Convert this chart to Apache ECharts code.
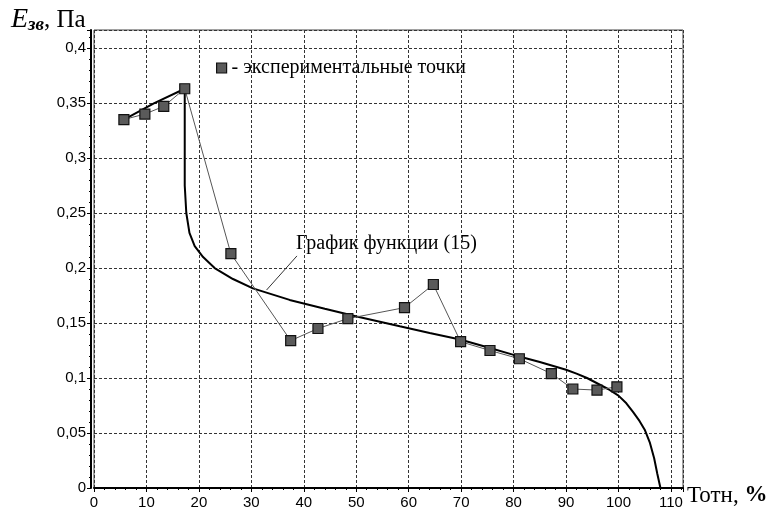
<!DOCTYPE html>
<html>
<head>
<meta charset="utf-8">
<script src="https://cdn.jsdelivr.net/npm/echarts@6/dist/echarts.min.js"></script>
<style>
  html, body { margin: 0; padding: 0; background: #fff; }
  #chart { width: 768px; height: 511px; }
</style>
</head>
<body>
<div id="chart"></div>
<script>
// experimental points, Тотн (%) vs E_зв (Па)
const expX = [5.7, 9.7, 13.3, 17.3, 26.1, 37.5, 42.7, 48.4, 59.2, 64.7, 69.9, 75.5, 81.1, 87.2, 91.3, 95.9, 99.7];
const expY = [0.335, 0.340, 0.347, 0.363, 0.213, 0.134, 0.145, 0.154, 0.164, 0.185, 0.133, 0.125, 0.1175, 0.104, 0.090, 0.089, 0.092];

// function (15)
const fnX = [5.7, 11.5, 17.3, 17.3, 17.6, 18.2, 19.2, 20.8, 23.0, 26.5, 30.3, 37.3, 44, 50.1, 58.3, 64, 69.8, 75, 80, 85, 90, 92, 94, 96, 98, 100, 101.5, 102.8, 104, 105, 106, 106.8, 107.4, 108];
const fnY = [0.335, 0.350, 0.363, 0.275, 0.250, 0.232, 0.220, 0.210, 0.200, 0.190, 0.1815, 0.171, 0.163, 0.156, 0.147, 0.141, 0.135, 0.128, 0.121, 0.1145, 0.1075, 0.104, 0.100, 0.095, 0.090, 0.084, 0.077, 0.069, 0.061, 0.053, 0.041, 0.027, 0.013, 0];

const pointer = [[38.7, 0.211], [32.9, 0.180]];

const serif = 'Liberation Serif';
const sans = 'Liberation Sans';

const chart = echarts.init(document.getElementById('chart'));

const gridLine = { show: true, lineStyle: { color: '#333', type: [3, 2], width: 1 } };

chart.setOption({
  animation: false,
  grid: { left: 94, right: 85, top: 30, bottom: 23, show: true, borderColor: '#444', borderWidth: 1 },
  legend: {
    left: 211, top: 53,
    icon: 'rect', itemWidth: 10, itemHeight: 10, itemGap: 7,
    itemStyle: { color: '#5a5a5a', borderColor: '#111', borderWidth: 1.2 },
    textStyle: { fontFamily: serif, fontSize: 20, color: '#000' },
    data: ['- экспериментальные точки'],
  },
  xAxis: {
    type: 'value', min: 0, max: 112.3, interval: 10,
    axisLine: { onZero: false, lineStyle: { color: '#000', width: 2 } },
    axisTick: { show: true, length: 4, lineStyle: { color: '#000' } },
    minorTick: { show: true, splitNumber: 5, length: 2, lineStyle: { color: '#000' } },
    axisLabel: { margin: 7, fontFamily: sans, fontSize: 15, color: '#000', showMaxLabel: false },
    splitLine: gridLine,
  },
  yAxis: {
    type: 'value', min: 0, max: 0.4164, interval: 0.05, offset: 3,
    axisLine: { show: true, onZero: false, lineStyle: { color: '#000', width: 2 } },
    axisTick: { show: true, length: 4, lineStyle: { color: '#000' } },
    minorTick: { show: true, splitNumber: 5, length: 2, lineStyle: { color: '#000' } },
    axisLabel: {
      margin: 5, fontFamily: sans, fontSize: 15, color: '#000', showMaxLabel: false,
      formatter: (v) => String(+v.toFixed(3)).replace('.', ','),
    },
    splitLine: gridLine,
  },
  series: [
    {
      name: 'fn15',
      type: 'line',
      data: fnX.map((x, i) => [x, fnY[i]]),
      showSymbol: false,
      lineStyle: { color: '#000', width: 2 },
      z: 2,
      markLine: {
        silent: true, symbol: 'none', label: { show: false },
        lineStyle: { color: '#333', width: 1, type: 'solid' },
        data: [[{ coord: pointer[0] }, { coord: pointer[1] }]],
      },
    },
    {
      name: '- экспериментальные точки',
      type: 'line',
      data: expX.map((x, i) => [x, expY[i]]),
      symbol: 'rect', symbolSize: 10,
      lineStyle: { color: '#555', width: 1 },
      itemStyle: { color: '#5a5a5a', borderColor: '#111', borderWidth: 1.2 },
      z: 3,
    },
  ],
  graphic: [
    {
      type: 'text', left: 11, top: 6,
      style: {
        text: '{e|E}{s|зв}{p|, Па}',
        rich: {
          e: { fontFamily: serif, fontStyle: 'italic', fontSize: 28, fill: '#000' },
          s: { fontFamily: serif, fontStyle: 'italic', fontWeight: 'bold', fontSize: 19, fill: '#000', padding: [11, 0, 0, 0] },
          p: { fontFamily: serif, fontSize: 25, fill: '#000' },
        },
      },
    },
    {
      type: 'text', left: 296, top: 234,
      style: { text: 'График функции (15)', fontFamily: serif, fontSize: 20, fill: '#000' },
    },
    {
      type: 'text', left: 687, top: 484,
      style: {
        text: '{t|Тотн, }{p|%}',
        rich: {
          t: { fontFamily: serif, fontSize: 23, fill: '#000' },
          p: { fontFamily: serif, fontSize: 23, fontWeight: 'bold', fill: '#000' },
        },
      },
    },
  ],
});
</script>
</body>
</html>
